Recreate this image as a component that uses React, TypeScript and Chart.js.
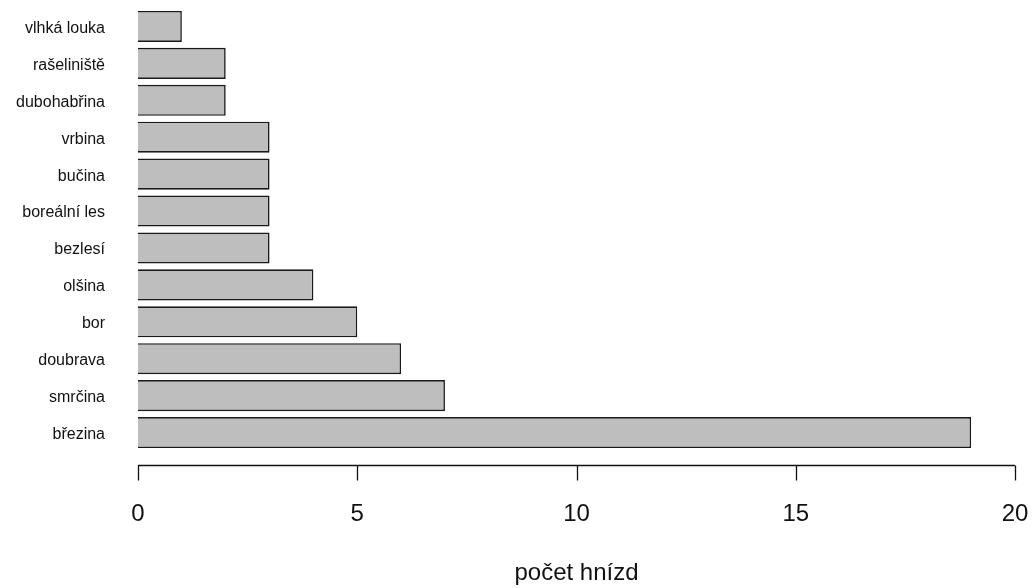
import React, { useEffect, useRef } from "react";
import { Chart } from "chart.js/auto";

const categories = [
  "vlhká louka",
  "rašeliniště",
  "dubohabřina",
  "vrbina",
  "bučina",
  "boreální les",
  "bezlesí",
  "olšina",
  "bor",
  "doubrava",
  "smrčina",
  "březina",
];
const counts = [1, 2, 2, 3, 3, 3, 3, 4, 5, 6, 7, 19];
const xTickMin = 0;
const xTickMax = 20;
const xTickStep = 5;
const xTitle = "počet hnízd";

const FONT = "'Liberation Sans', Arial, sans-serif";

const rAxisPlugin = {
  id: "rAxis",
  afterDraw(chart: any) {
    const { ctx, chartArea } = chart;
    const xs = chart.scales.x;
    const y = Math.round(chartArea.bottom + 14) + 0.5;
    const x0 = xs.getPixelForValue(xTickMin);
    const x1 = xs.getPixelForValue(xTickMax);
    ctx.save();
    ctx.strokeStyle = "#111";
    ctx.lineWidth = 1.3;
    ctx.beginPath();
    ctx.moveTo(x0, y);
    ctx.lineTo(x1, y);
    xs.ticks.forEach((t: any) => {
      const px = Math.round(xs.getPixelForValue(t.value)) + 0.5;
      ctx.moveTo(px, y);
      ctx.lineTo(px, y + 15);
    });
    ctx.stroke();
    ctx.restore();
  },
};

export default function App() {
  const ref = useRef<HTMLCanvasElement | null>(null);
  useEffect(() => {
    if (!ref.current) return;
    const chart = new Chart(ref.current, {
      type: "bar",
      data: {
        labels: categories,
        datasets: [
          {
            data: counts,
            backgroundColor: "#BEBEBE",
            borderColor: "#1a1a1a",
            borderWidth: 1.6,
            categoryPercentage: 1,
            barPercentage: 0.84,
          },
        ],
      },
      options: {
        indexAxis: "y",
        animation: false,
        responsive: false,
        devicePixelRatio: 1,
        layout: { padding: { top: 8, right: 20, left: 0, bottom: 0 } },
        plugins: { legend: { display: false }, tooltip: { enabled: false } },
        scales: {
          x: {
            type: "linear",
            min: xTickMin,
            max: xTickMax,
            grid: { display: false, drawTicks: true, tickLength: 49 },
            border: { display: false },
            ticks: {
              stepSize: xTickStep,
              padding: 0,
              color: "#111",
              font: { family: FONT, size: 24 },
              maxRotation: 0,
            },
            title: {
              display: true,
              text: xTitle,
              color: "#111",
              font: { family: FONT, size: 24 },
              padding: { top: 0, bottom: 0 },
            },
            afterFit: (s: any) => {
              s.height = 137;
            },
          },
          y: {
            type: "category",
            grid: { display: false, drawTicks: true, tickLength: 33 },
            border: { display: false },
            ticks: {
              padding: 0,
              labelOffset: 2,
              color: "#111",
              font: { family: FONT, size: 16, lineHeight: 1 },
            },
            afterFit: (s: any) => {
              s.width = 138;
            },
          },
        },
      },
      plugins: [rAxisPlugin],
    });
    return () => chart.destroy();
  }, []);
  return (
    <div style={{ position: "fixed", left: 0, top: 0, width: 1035, height: 588, background: "#fff" }}>
      <canvas ref={ref} width={1035} height={588} style={{ display: "block" }} />
    </div>
  );
}
